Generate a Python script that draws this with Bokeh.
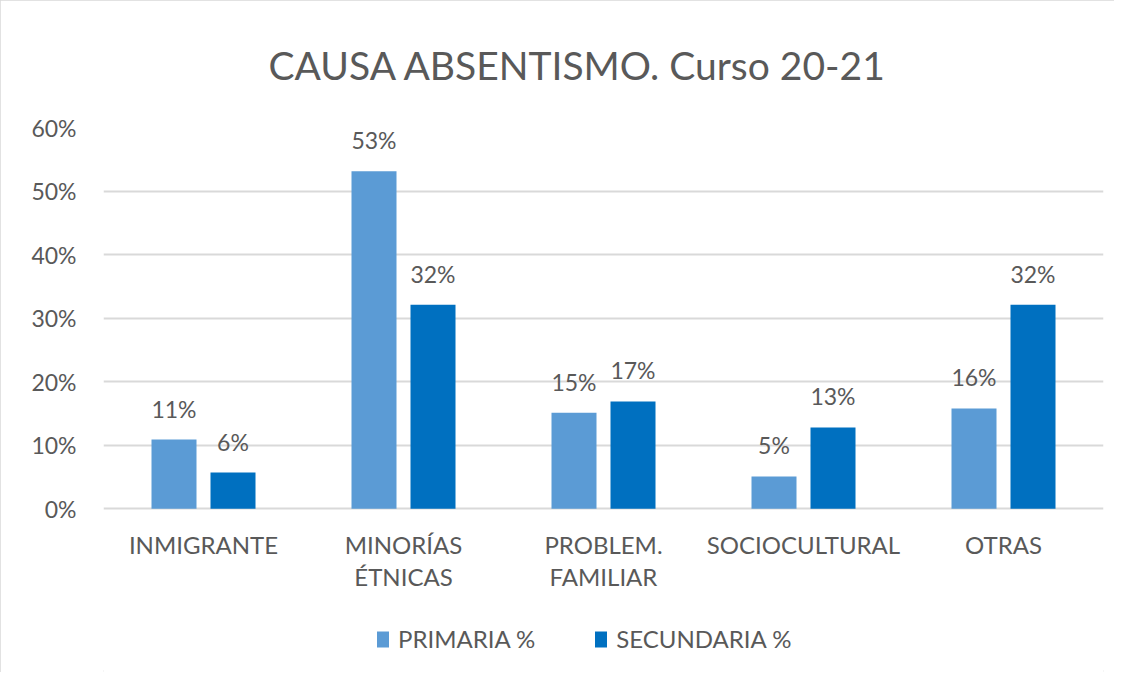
from bokeh.plotting import figure
from bokeh.models import (ColumnDataSource, FactorRange, Legend, LegendItem,
                          NumeralTickFormatter, Range1d)
from bokeh.transform import dodge
from bokeh.core.properties import value
from bokeh.embed import file_html
from bokeh.resources import INLINE

categories = ["INMIGRANTE", "MINORÍAS ÉTNICAS", "PROBLEM. FAMILIAR", "SOCIOCULTURAL", "OTRAS"]
tick_line1 = ["INMIGRANTE", "MINORÍAS", "PROBLEM.", "SOCIOCULTURAL", "OTRAS"]
tick_line2 = ["", "ÉTNICAS", "FAMILIAR", "", ""]
primaria = [0.109, 0.531, 0.151, 0.051, 0.158]
secundaria = [0.057, 0.321, 0.169, 0.128, 0.321]
y_ticks = [0, 0.1, 0.2, 0.3, 0.4, 0.5, 0.6]
series_names = ["PRIMARIA %", "SECUNDARIA %"]
colors = ["#5B9BD5", "#0070C0"]
title_text = "CAUSA ABSENTISMO. Curso 20-21"

FONT = "Lato"
TXT = "#595959"
FS = "23px"
FS_CAT = "24px"

src = ColumnDataSource(dict(
    cat=categories,
    prim=primaria,
    sec=secundaria,
    prim_lbl=[f"{round(v*100)}%" for v in primaria],
    sec_lbl=[f"{round(v*100)}%" for v in secundaria],
    line1=tick_line1,
    line2=tick_line2,
    base=[0.0] * len(categories),
))

W, H = 1114, 672
TOP, ZERO_PX = 126, 508          # pixel rows of the 60% and 0% gridlines
px_per_unit = (ZERO_PX - TOP) / y_ticks[-1]
y_min = -(H - ZERO_PX) / px_per_unit

p = figure(x_range=FactorRange(*categories), y_range=Range1d(y_min, y_ticks[-1]),
           width=W, height=H, output_backend="svg", toolbar_location=None,
           x_axis_location=None,
           min_border_left=103, min_border_right=11, min_border_top=TOP, min_border_bottom=0)
p.styles = {"outline": "2px solid #D9D9D9", "outline-offset": "-2px"}
p.outline_line_color = None
p.background_fill_color = "white"
p.border_fill_color = "white"

# title
p.title.text = title_text
p.title.align = "left"
p.title.offset = 165
p.title.standoff = 79
p.title.text_font = FONT
p.title.text_font_size = "39px"
p.title.text_font_style = "normal"
p.title.text_color = TXT

r1 = p.vbar(x=dodge("cat", -0.1475, range=p.x_range), top="prim", width=0.225, source=src,
            fill_color=colors[0], line_color=None)
r2 = p.vbar(x=dodge("cat", 0.1475, range=p.x_range), top="sec", width=0.225, source=src,
            fill_color=colors[1], line_color=None)

for col, lbl, off in (("prim", "prim_lbl", -0.1475), ("sec", "sec_lbl", 0.1475)):
    p.text(x=dodge("cat", off, range=p.x_range), y=col, text=lbl, source=src,
           text_align="center", text_baseline="alphabetic", y_offset=-31,
           text_font=value(FONT), text_font_size=FS, text_color=TXT)

# category labels under the 0% line
for col, off in (("line1", 21), ("line2", 53)):
    p.text(x="cat", y="base", text=col, source=src,
           text_align="center", text_baseline="top", y_offset=off,
           text_font=value(FONT), text_font_size=FS_CAT, text_color=TXT)

# y axis
p.yaxis.formatter = NumeralTickFormatter(format="0%")
p.yaxis.ticker = y_ticks
p.yaxis.axis_line_color = None
p.yaxis.major_tick_line_color = None
p.yaxis.minor_tick_line_color = None
p.yaxis.major_tick_out = 0
p.yaxis.major_tick_in = 0
p.yaxis.major_label_standoff = 27
p.yaxis.major_label_text_font = FONT
p.yaxis.major_label_text_font_size = FS
p.yaxis.major_label_text_color = TXT

p.xgrid.grid_line_color = None
p.ygrid.ticker = y_ticks
p.ygrid.grid_line_color = "#D9D9D9"
p.ygrid.grid_line_width = 2

legend = Legend(items=[LegendItem(label=series_names[0], renderers=[r1]),
                       LegendItem(label=series_names[1], renderers=[r2])],
                orientation="horizontal", location=(272, 19),
                label_text_font=FONT, label_text_font_size=FS_CAT, label_text_color=TXT,
                glyph_width=15, glyph_height=20, spacing=58, label_standoff=8,
                margin=0, padding=5,
                border_line_color=None, background_fill_alpha=0)
p.add_layout(legend, "center")

open("out.html", "w").write(file_html(p, INLINE))
